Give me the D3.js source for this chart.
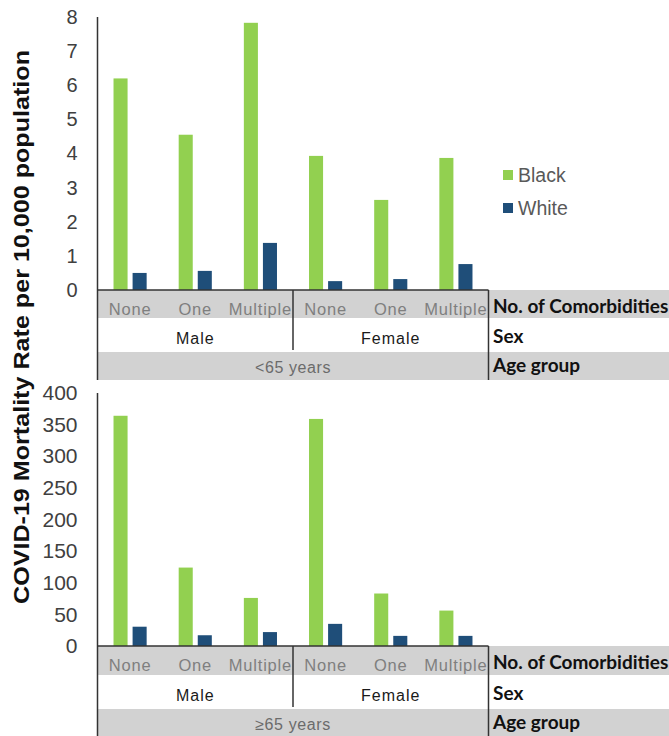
<!DOCTYPE html>
<html>
<head>
<meta charset="utf-8">
<script src="https://cdn.jsdelivr.net/npm/d3@7"></script>
<style>
  html, body { margin: 0; padding: 0; background: #fff; }
  svg { display: block; }
</style>
</head>
<body>
<svg id="chart" width="669" height="736"></svg>
<script>
// ---- data ----
const comorbidities = ["None", "One", "Multiple"];
const sexes = ["Male", "Female"];
const series = ["Black", "White"];
const ageGroups = ["<65 years", "\u226565 years"];
const rowLabels = ["No. of Comorbidities", "Sex", "Age group"];
const yTitle = "COVID-19 Mortality Rate per 10,000 population";

const under65Black = [6.2, 4.55, 7.83, 3.93, 2.64, 3.87];
const under65White = [0.5, 0.56, 1.38, 0.26, 0.32, 0.76];
const over65Black = [364, 124, 76, 359, 83, 56];
const over65White = [30.5, 17, 22, 35, 16, 16];

const under65Ticks = [0, 1, 2, 3, 4, 5, 6, 7, 8];
const over65Ticks = [0, 50, 100, 150, 200, 250, 300, 350, 400];

// ---- styles ----
const colors = { Black: "#92D050", White: "#1F4E79" };
const gray = "#d2d2d2";
const lineColor = "#333";
const font = "'Liberation Sans', Arial, sans-serif";

const svg = d3.select("#chart");

const plotLeft = 97.5, plotRight = 488.5, labelRight = 669;

const cats = [];
sexes.forEach(s => comorbidities.forEach(c => cats.push(s + "|" + c)));

const x0 = d3.scaleBand().domain(cats).range([plotLeft, plotRight]).paddingInner(0).paddingOuter(0);
const x1 = d3.scaleBand().domain(series).range([0, x0.bandwidth()]).paddingInner(0.263).paddingOuter(0.84);
const sexScale = d3.scaleBand().domain(sexes).range([plotLeft, plotRight]);

const panels = [
  { black: under65Black, white: under65White, ticks: under65Ticks, max: 8, zero: 290, top: 17,
    rows: [290, 318, 352, 380], age: ageGroups[0], tickSize: 20, legend: true },
  { black: over65Black, white: over65White, ticks: over65Ticks, max: 400, zero: 646, top: 393,
    rows: [646, 675, 709, 737], age: ageGroups[1], tickSize: 21, legend: false }
];

panels.forEach(p => {
  const g = svg.append("g");
  const y = d3.scaleLinear().domain([0, p.max]).range([p.zero, p.top]);

  // table backgrounds
  g.append("rect").attr("x", plotLeft).attr("y", p.rows[0]).attr("width", labelRight - plotLeft)
    .attr("height", p.rows[1] - p.rows[0]).attr("fill", gray);
  g.append("rect").attr("x", plotLeft).attr("y", p.rows[2]).attr("width", labelRight - plotLeft)
    .attr("height", p.rows[3] - p.rows[2]).attr("fill", gray);

  // bars
  const data = cats.map((c, i) => ({ cat: c, Black: p.black[i], White: p.white[i] }));
  const groups = g.selectAll("g.cat").data(data).enter().append("g")
    .attr("transform", d => `translate(${x0(d.cat)},0)`);
  groups.selectAll("rect").data(d => series.map(s => ({ s, v: d[s] }))).enter().append("rect")
    .attr("x", d => x1(d.s)).attr("width", x1.bandwidth())
    .attr("y", d => y(d.v)).attr("height", d => y(0) - y(d.v))
    .attr("fill", d => colors[d.s]);

  // y axis
  const ax = g.append("g").attr("transform", `translate(${plotLeft},0)`)
    .call(d3.axisLeft(y).tickValues(p.ticks).tickSize(0).tickPadding(20).tickFormat(d3.format("d")));
  ax.select(".domain").remove();
  ax.selectAll("text").attr("font-family", font).attr("font-size", p.tickSize).attr("fill", "#404040");

  // category labels
  g.selectAll("text.cat").data(cats).enter().append("text")
    .attr("x", d => x0(d) + x0.bandwidth() / 2).attr("y", p.rows[0] + 25)
    .attr("text-anchor", "middle").attr("font-family", font).attr("font-size", 16.5)
    .attr("letter-spacing", 0.8).attr("fill", "#7f7f7f")
    .text(d => d.split("|")[1]);

  // sex labels
  g.selectAll("text.sex").data(sexes).enter().append("text")
    .attr("x", d => sexScale(d) + sexScale.bandwidth() / 2).attr("y", p.rows[1] + 26)
    .attr("text-anchor", "middle").attr("font-family", font).attr("font-size", 16)
    .attr("letter-spacing", 1).attr("fill", "#1a1a1a").text(d => d);

  // age label
  g.append("text").attr("x", (plotLeft + plotRight) / 2).attr("y", p.rows[2] + 21)
    .attr("text-anchor", "middle").attr("font-family", font).attr("font-size", 16)
    .attr("letter-spacing", 0.6).attr("fill", "#6b6b6b").text(p.age);

  // row labels
  const rlY = [p.rows[0] + 23, p.rows[1] + 25, p.rows[2] + 20];
  rowLabels.forEach((t, i) => {
    g.append("text").attr("x", plotRight + 4.5).attr("y", rlY[i])
      .attr("font-family", "Lato, 'Open Sans', sans-serif").attr("font-weight", "bold")
      .attr("font-size", 19).attr("fill", "#111").text(t);
  });

  // lines
  const line = (x1_, y1_, x2_, y2_) => g.append("line").attr("x1", x1_).attr("y1", y1_)
    .attr("x2", x2_).attr("y2", y2_).attr("stroke", lineColor).attr("stroke-width", 1.5);
  line(plotLeft, p.top, plotLeft, p.rows[3]);
  line(plotLeft, p.zero, plotRight, p.zero);
  line(sexScale("Female"), p.zero, sexScale("Female"), p.rows[2] - 2);
  line(plotRight, p.zero, plotRight, p.rows[3]);

  // legend
  if (p.legend) {
    const lg = g.append("g");
    series.forEach((s, i) => {
      const cy = 175 + i * 33;
      lg.append("rect").attr("x", 503).attr("y", cy - 5).attr("width", 10).attr("height", 10).attr("fill", colors[s]);
      lg.append("text").attr("x", 518).attr("y", cy + 6.5).attr("font-family", font)
        .attr("font-size", 19.5).attr("fill", "#595959").text(s);
    });
  }
});

// y title
svg.append("text")
  .attr("transform", "translate(29,327) rotate(-90)")
  .attr("text-anchor", "middle").attr("font-family", font).attr("font-weight", "bold")
  .attr("font-size", 22).attr("textLength", 554).attr("lengthAdjust", "spacingAndGlyphs")
  .attr("fill", "#111").text(yTitle);
</script>
</body>
</html>
